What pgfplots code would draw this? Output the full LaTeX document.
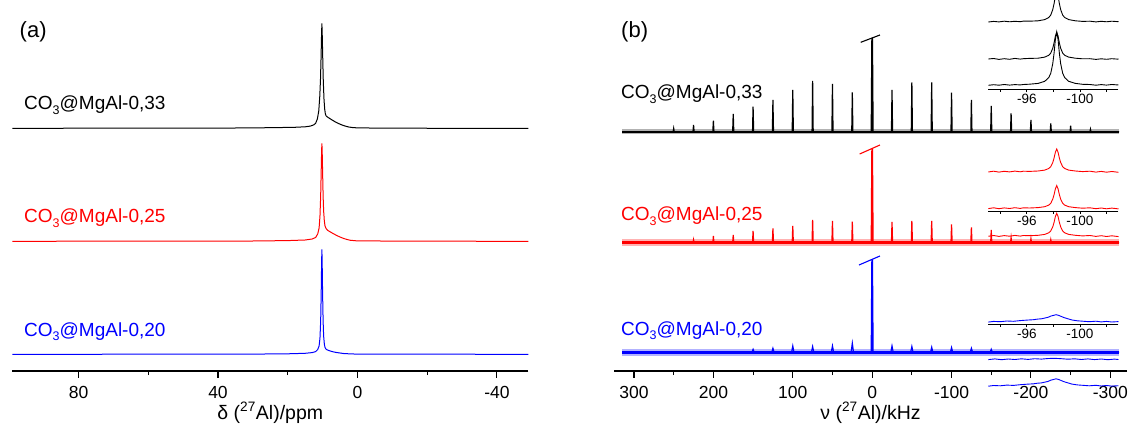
\documentclass[border=0pt]{standalone}
\usepackage{fontspec}
\setmainfont{Liberation Sans}
\usepackage{pgfplots}
\pgfplotsset{compat=1.18}
\definecolor{myred}{RGB}{255,0,0}
\definecolor{myblue}{RGB}{0,0,255}
\newcommand{\sub}[1]{\raisebox{-0.45ex}{\fontsize{12.5}{13}\selectfont #1}}
\pgfplotsset{
 mainax/.style={
  scale only axis, enlargelimits=false, x dir=reverse,
  axis x line=bottom, axis y line=none,
  axis line style={-, line width=1.1pt},
  tick align=outside, major tick length=6.5pt, minor tick length=4pt,
  tick style={line width=1.1pt, black},
  /pgf/number format/assume math mode=true,
  xticklabel style={anchor=base, yshift=-20.5pt, font=\fontsize{17.5}{19}\selectfont},
  xlabel style={at={(axis description cs:0.5,0)}, anchor=base, yshift=-48pt, font=\fontsize{19.5}{21}\selectfont},
  ymin=0, ymax=366, height=366pt, clip=false,
 },
 inset/.style={
  scale only axis, enlargelimits=false, x dir=reverse,
  axis x line=bottom, axis y line=none,
  axis line style={-, line width=0.8pt},
  tick align=outside, major tick length=3pt, minor tick length=2.5pt,
  tick style={line width=0.8pt, black},
  /pgf/number format/assume math mode=true,
  xticklabel style={anchor=base, yshift=-11.5pt, font=\fontsize{13.5}{15}\selectfont},
  xmin=-102.9, xmax=-93.1, xtick={-96,-100}, minor xtick={-94,-98,-102},
  width=130.2pt, ymin=0, clip=false,
 },
}
\begin{document}
\begin{tikzpicture}[x=1pt,y=1pt]
\useasboundingbox (0,0) rectangle (1128,432);
% ---------------- panel (a)
\begin{axis}[mainax, at={(12.3pt,61pt)}, anchor=south west, width=516pt,
  xmin=-49, xmax=99, xtick={80,40,0,-40}, minor xtick={60,20,-20},
  xlabel={δ (\textsuperscript{27}Al)/ppm}]
\addplot[black, line width=1pt] coordinates {(99,242.7)(70,242.8)(50,242.9)(35,243.0)(25,243.3)(18,243.7)(15,244.2)(13.5,244.9)(12.5,246.2)(12,247.7)(11.5,252)(11.1,260)(10.8,275)(10.6,292)(10.45,312)(10.3,336)(10.2,347.7)(10.1,336)(9.95,312)(9.8,290)(9.6,272)(9.4,262)(9.2,257)(9.0,255.2)(8.7,254.2)(8.3,253.3)(7.5,251.5)(6.5,249.4)(5.5,247.6)(4.5,246.1)(3.5,244.9)(2.5,244.0)(1.5,243.5)(0,243.1)(-10,242.8)(-30,242.7)(-49,242.7)};
\addplot[myred, line width=1pt] coordinates {(99,129.7)(50,129.9)(30,130.0)(20,130.4)(15,131.0)(13,132)(12,133.5)(11.4,137)(11,143)(10.75,155)(10.55,175)(10.4,200)(10.28,220)(10.2,227.7)(10.12,220)(10.0,200)(9.85,175)(9.7,160)(9.5,150)(9.3,145)(9.0,142.5)(8.6,140.8)(8,139.5)(7,137.5)(6,135.6)(5,134)(4,132.6)(3,131.5)(2,130.7)(0,130.1)(-20,129.8)(-49,129.7)};
\addplot[myblue, line width=1pt] coordinates {(99,16.7)(50,16.8)(30,16.9)(20,17.2)(15,17.7)(13,18.4)(12,19.4)(11.4,21.5)(11,25)(10.75,33)(10.55,50)(10.4,78)(10.28,108)(10.2,121.7)(10.12,108)(10.0,78)(9.85,50)(9.7,35)(9.5,27)(9.3,23.5)(9.0,21.8)(8.6,21.0)(8,20.2)(7,19.2)(6,18.5)(5,18)(4,17.5)(2,17.1)(0,16.9)(-20,16.8)(-49,16.7)};
\end{axis}
% ---------------- panel (b)
\begin{axis}[mainax, at={(614pt,61pt)}, anchor=south west, width=513pt,
  xmin=-321, xmax=325.2, xtick={300,200,100,0,-100,-200,-300}, minor xtick={250,150,50,-50,-150,-250},
  xlabel={ν (\textsuperscript{27}Al)/kHz}]
% black
\addplot[black, line width=5pt, opacity=0.3] coordinates {(315,239.3)(-311,239.3)};
\addplot[black, line width=2.2pt] coordinates {(315,239.3)(-311,239.3)};
\addplot[black, line width=1.2pt] coordinates {(315,239.3)
(250.7,239.3)(250,242.6)(249.3,239.3)
(225.7,239.3)(225,246)(224.3,239.3)
(200.7,239.3)(200,250.3)(199.3,239.3)
(175.7,239.3)(175,257)(174.3,239.3)
(150.7,239.3)(150,264.3)(149.3,239.3)
(125.7,239.3)(125,271)(124.3,239.3)
(100.7,239.3)(100,281)(99.3,239.3)
(75.7,239.3)(75,290)(74.3,239.3)
(50.7,239.3)(50,287)(49.3,239.3)
(25.7,239.3)(25,278.6)(24.3,239.3)
(-24.3,239.3)(-25,281)(-25.7,239.3)
(-49.3,239.3)(-50,288.6)(-50.7,239.3)
(-74.3,239.3)(-75,288.6)(-75.7,239.3)
(-99.3,239.3)(-100,278.3)(-100.7,239.3)
(-124.3,239.3)(-125,271)(-125.7,239.3)
(-149.3,239.3)(-150,265)(-150.7,239.3)
(-174.3,239.3)(-175,257.6)(-175.7,239.3)
(-199.3,239.3)(-200,251)(-200.7,239.3)
(-224.3,239.3)(-225,247.6)(-225.7,239.3)
(-249.3,239.3)(-250,245.3)(-250.7,239.3)
(-274.3,239.3)(-275,241.8)(-275.7,239.3)
(-311,239.3)};
\addplot[black, line width=1.8pt] coordinates {(0.8,239.3)(0,333)(-0.8,239.3)};
\addplot[black, line width=1.1pt] coordinates {(14.4,328.7)(-9.8,336)};
% red
\addplot[myred, line width=7pt, opacity=0.3] coordinates {(315,128.3)(-311,128.3)};
\addplot[myred, line width=2.8pt] coordinates {(315,128.3)(-311,128.3)};
\addplot[myred, line width=1.2pt] coordinates {(315,128.3)
(225.7,128.3)(225,131.3)(224.3,128.3)
(200.7,128.3)(200,135)(199.3,128.3)
(175.7,128.3)(175,136)(174.3,128.3)
(150.7,128.3)(150,140)(149.3,128.3)
(125.7,128.3)(125,142.6)(124.3,128.3)
(100.7,128.3)(100,145)(99.3,128.3)
(75.7,128.3)(75,151)(74.3,128.3)
(50.7,128.3)(50,150)(49.3,128.3)
(25.7,128.3)(25,149.3)(24.3,128.3)
(-24.3,128.3)(-25,149)(-25.7,128.3)
(-49.3,128.3)(-50,150)(-50.7,128.3)
(-74.3,128.3)(-75,150)(-75.7,128.3)
(-99.3,128.3)(-100,146.6)(-100.7,128.3)
(-124.3,128.3)(-125,143.6)(-125.7,128.3)
(-149.3,128.3)(-150,141)(-150.7,128.3)
(-174.3,128.3)(-175,133.3)(-175.7,128.3)
(-199.3,128.3)(-200,132.3)(-200.7,128.3)
(-224.3,128.3)(-225,131.3)(-225.7,128.3)
(-311,128.3)};
\addplot[myred, line width=1.8pt] coordinates {(0.8,128.3)(0,222.5)(-0.8,128.3)};
\addplot[myred, line width=1.1pt] coordinates {(15.7,217)(-9.8,226)};
% blue
\addplot[myblue, line width=7pt, opacity=0.3] coordinates {(315,18.7)(-311,18.7)};
\addplot[myblue, line width=2.8pt] coordinates {(315,18.7)(-311,18.7)};
\addplot[myblue, line width=1.2pt] coordinates {(315,18.7)
(151.5,18.7)(150,21.7)(148.5,18.7)
(126.5,18.7)(125,22.7)(123.5,18.7)
(101.5,18.7)(100,25)(98.5,18.7)
(76.5,18.7)(75,24.4)(73.5,18.7)
(51.5,18.7)(50,25)(48.5,18.7)
(26.5,18.7)(25,27.7)(23.5,18.7)
(-23.5,18.7)(-25,25)(-26.5,18.7)
(-48.5,18.7)(-50,24.4)(-51.5,18.7)
(-73.5,18.7)(-75,23.7)(-76.5,18.7)
(-98.5,18.7)(-100,23.4)(-101.5,18.7)
(-123.5,18.7)(-125,22.7)(-126.5,18.7)
(-148.5,18.7)(-150,21.7)(-151.5,18.7)
(-311,18.7)};
\addplot[myblue, line width=1.8pt] coordinates {(0.8,18.7)(0,111.7)(-0.8,18.7)};
\addplot[myblue, line width=1.1pt] coordinates {(16.6,106)(-9.8,115)};
\end{axis}
% ---------------- inset black
\begin{axis}[inset, at={(988.3pt,342.7pt)}, anchor=south west, height=89.3pt, ymax=89.3]
\addplot[black, line width=0.9pt] coordinates {(-93.1,67.3)(-93.5,67.9)(-93.9,67.4)(-94.3,68.1)(-94.7,67.5)(-95.1,68.0)(-95.5,67.6)(-95.75,68.2)(-96.2,68.1)(-96.85,68.5)(-97.35,69.7)(-97.65,71.8)(-97.8,74.2)(-97.95,79.6)(-98.05,85.6)(-98.15,93.4)(-98.25,97.6)(-98.35,93.4)(-98.45,85.6)(-98.55,79.6)(-98.7,74.2)(-98.85,71.8)(-99.15,69.7)(-99.65,68.5)(-100.2,67.9)(-100.75,68.1)(-101.2,67.4)(-101.6,68.0)(-102.0,67.5)(-102.4,68.1)(-102.9,67.6)};
\addplot[black, line width=0.9pt] coordinates {(-93.1,30.3)(-93.5,30.8)(-93.9,29.9)(-94.3,30.6)(-94.7,30.0)(-95.1,30.9)(-95.5,30.2)(-95.75,30.6)(-96.2,30.9)(-96.85,31.1)(-97.35,32.2)(-97.65,34.0)(-97.8,36.2)(-97.95,41.0)(-98.05,46.3)(-98.15,53.3)(-98.25,57.0)(-98.35,53.3)(-98.45,46.3)(-98.55,41.0)(-98.7,36.2)(-98.85,34.0)(-99.15,32.2)(-99.65,31.1)(-100.2,30.5)(-100.75,30.6)(-101.2,29.9)(-101.6,30.5)(-102.0,30.0)(-102.4,30.6)(-102.9,30.1)};
\addplot[black, line width=0.9pt] coordinates {(-93.1,4.0)(-93.5,4.6)(-93.9,4.1)(-94.3,4.8)(-94.7,4.2)(-95.1,4.7)(-95.5,4.4)(-95.75,4.8)(-96.2,5.1)(-96.85,5.9)(-97.35,8.0)(-97.65,11.7)(-97.8,16.0)(-97.95,25.5)(-98.05,36.1)(-98.15,49.9)(-98.25,57.3)(-98.35,49.9)(-98.45,36.1)(-98.55,25.5)(-98.7,16.0)(-98.85,11.7)(-99.15,8.0)(-99.65,5.9)(-100.2,5.0)(-100.75,4.8)(-101.2,4.1)(-101.6,4.7)(-102.0,4.2)(-102.4,4.8)(-102.9,4.3)};
\end{axis}
% ---------------- inset red
\begin{axis}[inset, at={(988.3pt,221pt)}, anchor=south west, height=40pt, ymax=40]
\addplot[myred, line width=0.9pt] coordinates {(-93.1,39.0)(-93.5,39.8)(-93.9,38.9)(-94.3,39.7)(-94.7,39.1)(-95.1,39.9)(-95.5,39.2)(-95.75,39.8)(-96.2,39.6)(-96.85,40.0)(-97.35,40.9)(-97.65,42.5)(-97.8,44.3)(-97.95,48.4)(-98.05,52.9)(-98.15,58.8)(-98.25,62.0)(-98.35,58.8)(-98.45,52.9)(-98.55,48.4)(-98.7,44.3)(-98.85,42.5)(-99.15,40.9)(-99.65,40.0)(-100.2,39.4)(-100.75,39.8)(-101.2,38.9)(-101.6,39.6)(-102.0,38.8)(-102.4,39.5)(-102.9,38.7)};
\addplot[myred, line width=0.9pt] coordinates {(-93.1,2.4)(-93.5,3.2)(-93.9,2.3)(-94.3,3.1)(-94.7,2.5)(-95.1,3.3)(-95.5,2.6)(-95.75,3.2)(-96.2,3.0)(-96.85,3.4)(-97.35,4.3)(-97.65,5.9)(-97.8,7.7)(-97.95,11.8)(-98.05,16.3)(-98.15,22.2)(-98.25,25.4)(-98.35,22.2)(-98.45,16.3)(-98.55,11.8)(-98.7,7.7)(-98.85,5.9)(-99.15,4.3)(-99.65,3.4)(-100.2,2.8)(-100.75,3.2)(-101.2,2.3)(-101.6,3.0)(-102.0,2.2)(-102.4,2.9)(-102.9,2.1)};
\addplot[myred, line width=0.9pt] coordinates {(-93.1,-25.3)(-93.5,-24.5)(-93.9,-25.4)(-94.3,-24.6)(-94.7,-25.2)(-95.1,-24.4)(-95.5,-25.1)(-95.75,-24.5)(-96.2,-24.7)(-96.85,-24.3)(-97.35,-23.4)(-97.65,-21.8)(-97.8,-20.0)(-97.95,-15.9)(-98.05,-11.4)(-98.15,-5.5)(-98.25,-2.3)(-98.35,-5.5)(-98.45,-11.4)(-98.55,-15.9)(-98.7,-20.0)(-98.85,-21.8)(-99.15,-23.4)(-99.65,-24.3)(-100.2,-24.9)(-100.75,-24.5)(-101.2,-25.4)(-101.6,-24.7)(-102.0,-25.5)(-102.4,-24.8)(-102.9,-25.6)};
\end{axis}
% ---------------- inset blue
\begin{axis}[inset, at={(988.3pt,107.7pt)}, anchor=south west, height=20pt, ymax=20]
\addplot[myblue, line width=0.9pt] coordinates {(-93.1,2.2)(-93.5,2.9)(-94.0,2.6)(-94.5,3.3)(-95.0,3.0)(-95.5,3.7)(-96.0,4.2)(-96.5,4.6)(-96.8,5.2)(-97.1,5.5)(-97.4,6.4)(-97.6,7.0)(-97.8,8.2)(-98.0,8.9)(-98.2,9.6)(-98.4,8.9)(-98.6,7.8)(-98.8,6.7)(-99.1,5.5)(-99.4,4.3)(-99.8,3.5)(-100.2,3.1)(-100.7,2.6)(-101.2,3.1)(-101.6,2.4)(-102.0,2.9)(-102.4,2.3)(-102.9,2.7)};
\addplot[myblue, line width=0.9pt] coordinates {(-93.1,-35.3)(-93.6,-34.6)(-94.1,-35.4)(-94.6,-34.7)(-95.1,-35.2)(-95.6,-34.5)(-96.1,-35.1)(-96.6,-34.4)(-97.1,-34.8)(-97.6,-34.2)(-98.1,-34.0)(-98.6,-34.4)(-99.1,-34.9)(-99.6,-34.5)(-100.1,-35.2)(-100.6,-34.6)(-101.1,-35.3)(-101.6,-34.7)(-102.1,-35.4)(-102.6,-34.8)(-102.9,-35.2)};
\addplot[myblue, line width=0.9pt] coordinates {(-93.1,-61.9)(-93.5,-61.2)(-94.0,-61.5)(-94.5,-60.8)(-95.0,-61.1)(-95.5,-60.4)(-96.0,-59.9)(-96.5,-59.5)(-96.8,-58.9)(-97.1,-58.6)(-97.4,-57.7)(-97.6,-57.1)(-97.8,-55.9)(-98.0,-55.2)(-98.2,-54.5)(-98.4,-55.2)(-98.6,-56.3)(-98.8,-57.4)(-99.1,-58.6)(-99.4,-59.8)(-99.8,-60.6)(-100.2,-61.0)(-100.7,-61.5)(-101.2,-61.0)(-101.6,-61.7)(-102.0,-61.2)(-102.4,-61.8)(-102.9,-61.4)};
\end{axis}
% ---------------- texts
\node[anchor=base west, inner sep=0, font=\fontsize{22}{26}\selectfont] at (19.5,394) {(a)};
\node[anchor=base west, inner sep=0, font=\fontsize{22}{26}\selectfont] at (621,394) {(b)};
\node[anchor=base west, inner sep=0, font=\fontsize{19}{22}\selectfont, text=black] at (24,322) {CO\sub{3}@MgAl-0,33};
\node[anchor=base west, inner sep=0, font=\fontsize{19}{22}\selectfont, text=myred] at (24,209.3) {CO\sub{3}@MgAl-0,25};
\node[anchor=base west, inner sep=0, font=\fontsize{19}{22}\selectfont, text=myblue] at (24,96) {CO\sub{3}@MgAl-0,20};
\node[anchor=base west, inner sep=0, font=\fontsize{19}{22}\selectfont, text=black] at (621,333) {CO\sub{3}@MgAl-0,33};
\node[anchor=base west, inner sep=0, font=\fontsize{19}{22}\selectfont, text=myred] at (621,211.3) {CO\sub{3}@MgAl-0,25};
\node[anchor=base west, inner sep=0, font=\fontsize{19}{22}\selectfont, text=myblue] at (621,97) {CO\sub{3}@MgAl-0,20};
\end{tikzpicture}
\end{document}
